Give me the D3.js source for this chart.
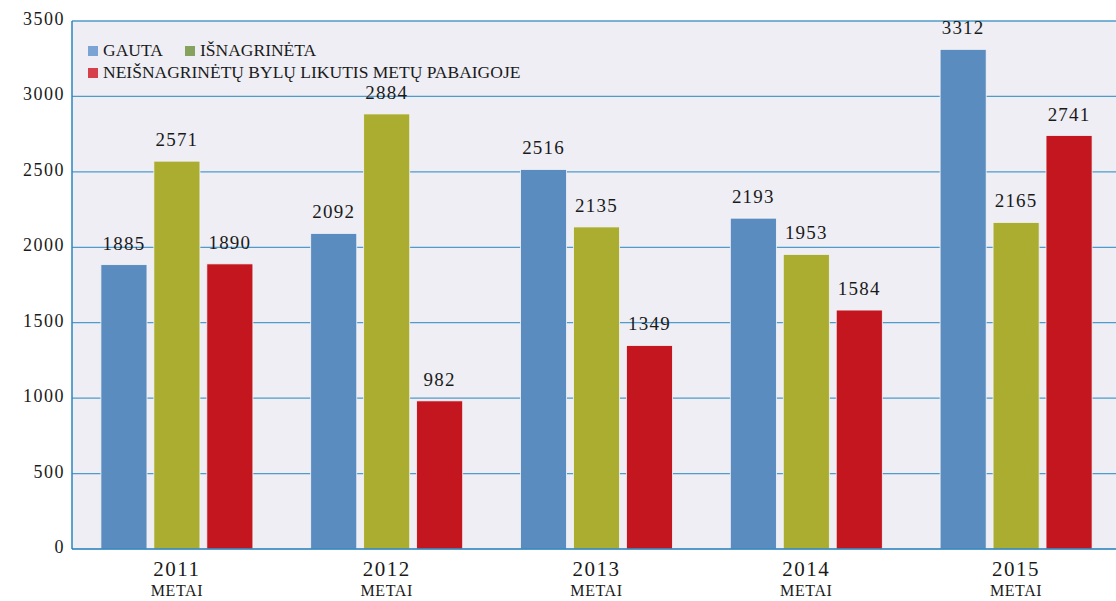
<!DOCTYPE html>
<html>
<head>
<meta charset="utf-8">
<script src="https://cdn.jsdelivr.net/npm/d3@7"></script>
<style>
  body { margin: 0; background: #fff; }
  text { font-family: "Liberation Serif", "DejaVu Serif", serif; fill: #1a1a1a; }
</style>
</head>
<body>
<div id="chart"></div>
<script>
const years = ["2011", "2012", "2013", "2014", "2015"]
const seriesNames = ["GAUTA", "IŠNAGRINĖTA", "NEIŠNAGRINĖTŲ BYLŲ LIKUTIS METŲ PABAIGOJE"]
const gauta = [1885, 2092, 2516, 2193, 3312]
const isnagrineta = [2571, 2884, 2135, 1953, 2165]
const likutis = [1890, 982, 1349, 1584, 2741]
const yTicks = [0, 500, 1000, 1500, 2000, 2500, 3000, 3500]

const barColors = ["#5b8cc0", "#aaad2f", "#c4161e"]
const legendColors = ["#7ba4d4", "#87a25c", "#d6404a"]

const width = 1116
const height = 601
const plotLeft = 72, plotRight = 1121, plotTop = 21, plotBottom = 549

const svg = d3.select("#chart")
  .append("svg")
  .attr("width", width)
  .attr("height", height)

const x = d3.scaleBand()
  .domain(years)
  .range([plotLeft, plotRight])

const inner = d3.scaleBand()
  .domain([0, 1, 2])
  .range([0, 152])
  .paddingInner(0.13)

const y = d3.scaleLinear()
  .domain([0, 3500])
  .range([plotBottom, plotTop])

// plot background
svg.append("rect")
  .attr("x", plotLeft)
  .attr("y", plotTop)
  .attr("width", width - plotLeft)
  .attr("height", plotBottom - plotTop)
  .attr("fill", "#eeeef4")

// grid lines
svg.append("g")
  .selectAll("line")
  .data(yTicks.filter(d => d > 0))
  .join("line")
  .attr("x1", plotLeft)
  .attr("x2", width)
  .attr("y1", d => y(d))
  .attr("y2", d => y(d))
  .attr("stroke", "#4f9bc9")
  .attr("stroke-width", 1.3)

// y tick labels
svg.append("g")
  .selectAll("text")
  .data(yTicks)
  .join("text")
  .attr("x", 65)
  .attr("y", d => y(d) + 4)
  .attr("text-anchor", "end")
  .attr("font-size", 18)
  .attr("letter-spacing", 1.5)
  .text(d => d)

const series = [gauta, isnagrineta, likutis]
const rows = years.map((yr, i) => series.map((s, k) => ({ year: yr, k: k, value: s[i] })))

const groups = svg.append("g")
  .selectAll("g")
  .data(rows)
  .join("g")
  .attr("transform", (d, i) => `translate(${x(years[i]) + x.bandwidth() / 2 - 76},0)`)

groups.selectAll("rect")
  .data(d => d)
  .join("rect")
  .attr("x", d => inner(d.k))
  .attr("y", d => y(d.value))
  .attr("width", inner.bandwidth())
  .attr("height", d => plotBottom - y(d.value))
  .attr("fill", d => barColors[d.k])
  .attr("stroke", "#f4f4f8")
  .attr("stroke-width", 0.8)

groups.selectAll("text")
  .data(d => d)
  .join("text")
  .attr("x", d => inner(d.k) + inner.bandwidth() / 2)
  .attr("y", d => y(d.value) - 15)
  .attr("text-anchor", "middle")
  .attr("font-size", 19)
  .attr("letter-spacing", 1.2)
  .text(d => d.value)

// axes lines
svg.append("line")
  .attr("x1", plotLeft).attr("x2", plotLeft)
  .attr("y1", plotTop).attr("y2", plotBottom)
  .attr("stroke", "#2a86bf").attr("stroke-width", 1.5)
svg.append("line")
  .attr("x1", plotLeft).attr("x2", width)
  .attr("y1", plotBottom).attr("y2", plotBottom)
  .attr("stroke", "#1f7db8").attr("stroke-width", 1.5)

// x labels
const xl = svg.append("g")
  .selectAll("g")
  .data(years)
  .join("g")
  .attr("transform", d => `translate(${x(d) + x.bandwidth() / 2},0)`)
xl.append("text")
  .attr("y", 576)
  .attr("text-anchor", "middle")
  .attr("font-size", 21)
  .attr("letter-spacing", 1.5)
  .text(d => d)
xl.append("text")
  .attr("y", 596)
  .attr("text-anchor", "middle")
  .attr("font-size", 16)
  .attr("letter-spacing", 0.6)
  .text("METAI")

// legend
const legendPos = [[88, 56], [185, 56], [88, 78]]
const legend = svg.append("g")
  .selectAll("g")
  .data(seriesNames)
  .join("g")
  .attr("transform", (d, i) => `translate(${legendPos[i][0]},${legendPos[i][1]})`)
legend.append("rect")
  .attr("y", -10)
  .attr("width", 10)
  .attr("height", 10)
  .attr("fill", (d, i) => legendColors[i])
legend.append("text")
  .attr("x", 15)
  .attr("font-size", 17.5)
  .text(d => d)
</script>
</body>
</html>
